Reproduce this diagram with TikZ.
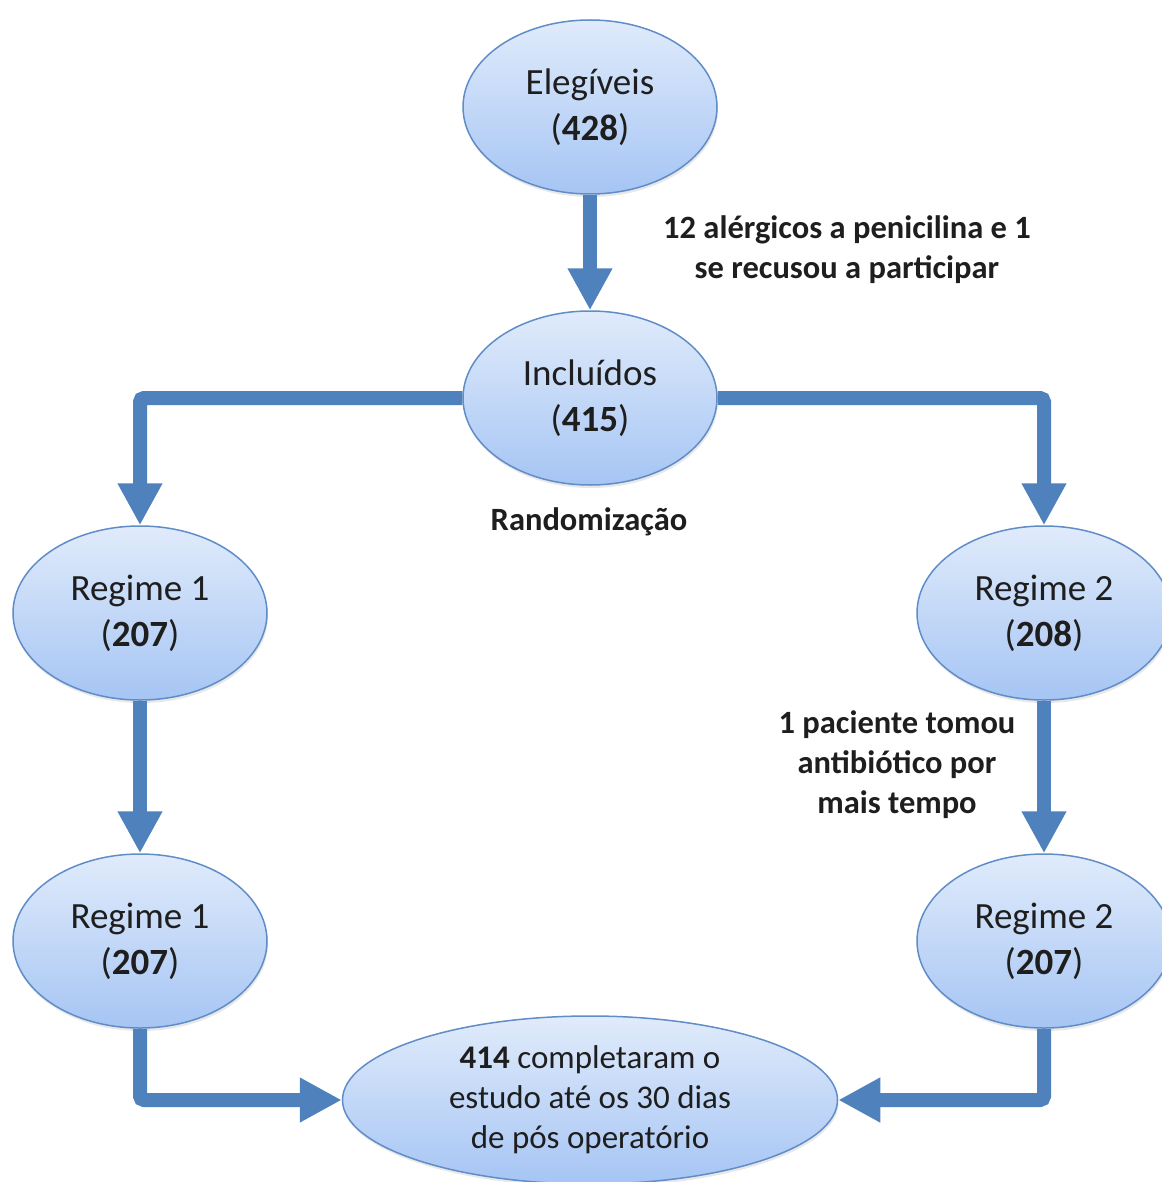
\documentclass[tikz,border=0pt]{standalone}
\usepackage{fontspec}
\setmainfont{Carlito}
\usepackage{tikz}
\definecolor{flowblue}{RGB}{79,129,189}
\definecolor{stagetop}{RGB}{224,235,251}
\definecolor{stagebot}{RGB}{166,197,244}
\definecolor{stageline}{RGB}{96,141,200}
\definecolor{ink}{RGB}{30,30,30}
\tikzset{
stage/.style={ellipse, draw=stageline, line width=1.5pt, top color=stagetop, bottom color=stagebot,
  inner sep=0pt, minimum width=254pt, minimum height=174pt, align=center, text=ink,
  font=\fontsize{37}{46}\selectfont,
  drop shadow={opacity=0.18, shadow xshift=1pt, shadow yshift=-3pt}},
final/.style={stage, minimum width=495pt, minimum height=168pt, font=\fontsize{33}{40}\selectfont},
note/.style={align=center, text=ink, font=\bfseries\fontsize{32.5}{40}\selectfont},
flow/.style={-{Triangle[width=42pt, length=42pt]}, line width=14pt, draw=flowblue, rounded corners=4pt}
}
\usetikzlibrary{shapes.geometric, arrows.meta, shadows}

\begin{document}
\begin{tikzpicture}[x=1pt, y=-1pt]
	\useasboundingbox (0,0) rectangle (1161,1182);
	\node[stage] (eleg) at (590,107) {Elegíveis\\(\textbf{428})};
	\node[stage] (incl) at (590,398) {Incluídos\\(\textbf{415})};
	\node[stage] (regA) at (140,613) {Regime 1\\(\textbf{207})};
	\node[stage] (regB) at (1044,613) {Regime 2\\(\textbf{208})};
	\node[stage] (regAf) at (140,941) {Regime 1\\(\textbf{207})};
	\node[stage] (regBf) at (1044,941) {Regime 2\\(\textbf{207})};
	\node[final] (fim) at (590,1100) {\textbf{414} completaram o\\estudo até os 30 dias\\de pós operatório};
	% ----
	\node[note] (excl) at (847,250) {12 alérgicos a penicilina e 1\\se recusou a participar};
	\node[note] (rand) at (589,522) {Randomização};
	\node[note] (desv) at (897,765) {1 paciente tomou\\antibiótico por\\mais tempo};
	% ----
	\draw[flow] (eleg) -- (incl);
	\draw[flow] (incl.west) -| (regA.north);
	\draw[flow] (incl.east) -| (regB.north);
	\draw[flow] (regA) -- (regAf);
	\draw[flow] (regB) -- (regBf);
	\draw[flow] (regAf.south) |- (fim.west);
	\draw[flow] (regBf.south) |- (fim.east);
\end{tikzpicture}
\end{document}
